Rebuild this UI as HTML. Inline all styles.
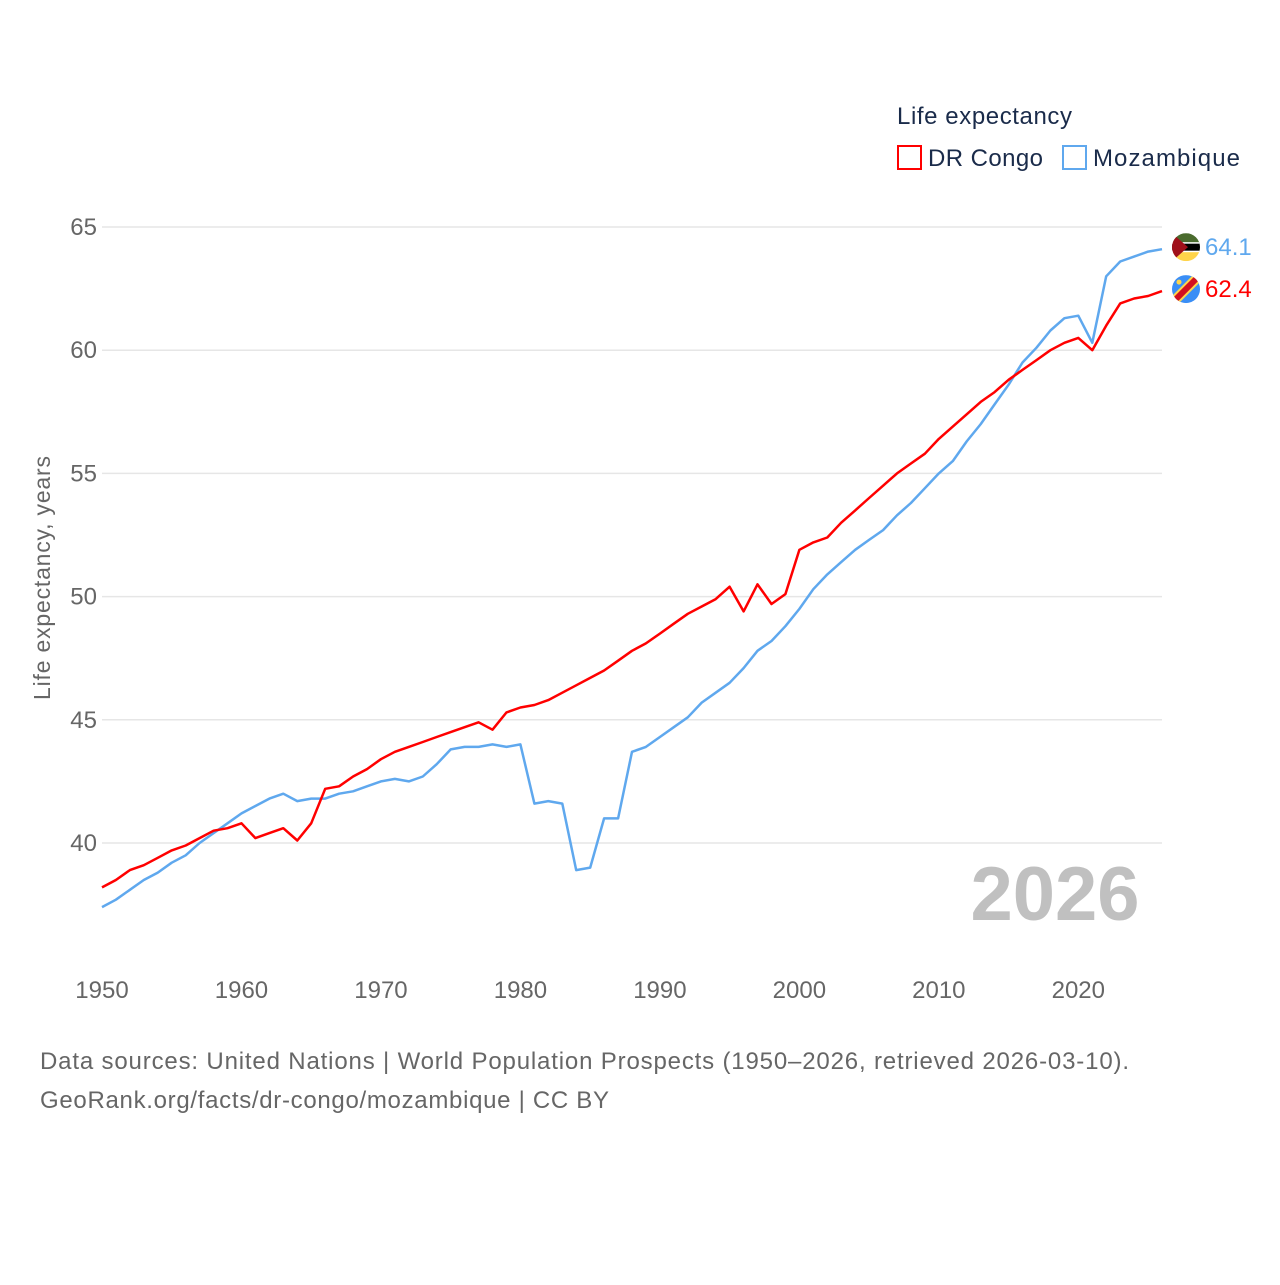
<!DOCTYPE html>
<html><head><meta charset="utf-8"><style>
body{margin:0;background:#fff;}
svg text{font-family:"Liberation Sans",sans-serif;}
</style></head><body>
<svg id="chart" width="1280" height="1280" viewBox="0 0 1280 1280">
<g id="grid"></g>
<g id="yticks"></g>
<g id="xticks"></g>
<text x="1055" y="920" font-size="76" font-weight="bold" fill="#c0c0c0" text-anchor="middle">2026</text>
<text transform="translate(50,578) rotate(-90)" font-size="23" fill="#666" text-anchor="middle" textLength="244">Life expectancy, years</text>
<g id="lines"></g>
<g>
<text x="897" y="124" font-size="24" fill="#1a2b4a" textLength="175">Life expectancy</text>
<g><rect x="898" y="146" width="23" height="23" fill="none" stroke="#ff0000" stroke-width="2"/><text x="928" y="166" font-size="24" fill="#1a2b4a" textLength="115">DR Congo</text></g>
<g><rect x="1063" y="146" width="23" height="23" fill="none" stroke="#5fa8ee" stroke-width="2"/><text x="1093" y="166" font-size="24" fill="#1a2b4a" textLength="147">Mozambique</text></g>
</g>
<g id="ends"></g>
<text x="40" y="1069" font-size="24" fill="#666" textLength="1089">Data sources: United Nations | World Population Prospects (1950–2026, retrieved 2026-03-10).</text>
<text x="40" y="1108" font-size="24" fill="#666" textLength="569">GeoRank.org/facts/dr-congo/mozambique | CC BY</text>
</svg>
<script>
const startYear = 1950;
const congo = [38.2,38.5,38.9,39.1,39.4,39.7,39.9,40.2,40.5,40.6,40.8,40.2,40.4,40.6,40.1,40.8,42.2,42.3,42.7,43.0,43.4,43.7,43.9,44.1,44.3,44.5,44.7,44.9,44.6,45.3,45.5,45.6,45.8,46.1,46.4,46.7,47.0,47.4,47.8,48.1,48.5,48.9,49.3,49.6,49.9,50.4,49.4,50.5,49.7,50.1,51.9,52.2,52.4,53.0,53.5,54.0,54.5,55.0,55.4,55.8,56.4,56.9,57.4,57.9,58.3,58.8,59.2,59.6,60.0,60.3,60.5,60.0,61.0,61.9,62.1,62.2,62.4];
const mozambique = [37.4,37.7,38.1,38.5,38.8,39.2,39.5,40.0,40.4,40.8,41.2,41.5,41.8,42.0,41.7,41.8,41.8,42.0,42.1,42.3,42.5,42.6,42.5,42.7,43.2,43.8,43.9,43.9,44.0,43.9,44.0,41.6,41.7,41.6,38.9,39.0,41.0,41.0,43.7,43.9,44.3,44.7,45.1,45.7,46.1,46.5,47.1,47.8,48.2,48.8,49.5,50.3,50.9,51.4,51.9,52.3,52.7,53.3,53.8,54.4,55.0,55.5,56.3,57.0,57.8,58.6,59.5,60.1,60.8,61.3,61.4,60.3,63.0,63.6,63.8,64.0,64.1];
const yTicks = [40,45,50,55,60,65];
const xTicks = [1950,1960,1970,1980,1990,2000,2010,2020];
</script>
<script>
const NS='http://www.w3.org/2000/svg';
const x=yr=>102+(yr-1950)*(1060/76);
const y=v=>227+(65-v)*24.64;
function mk(tag,attrs,parent,txt){const e=document.createElementNS(NS,tag);for(const k in attrs)e.setAttribute(k,attrs[k]);if(txt!==undefined)e.textContent=txt;parent.appendChild(e);return e;}
const grid=document.getElementById('grid'),yt=document.getElementById('yticks'),xt=document.getElementById('xticks');
yTicks.forEach(v=>{
  const l=mk('line',{x1:102,x2:1162,y1:y(v),y2:y(v),stroke:'#e6e6e6','stroke-width':1.5},grid);
  
  
  const t=mk('text',{x:97,y:y(v)+8,'font-size':24,fill:'#666','text-anchor':'end'},yt,v);
  
  
});
xTicks.forEach(v=>{
  const t=mk('text',{x:x(v),y:998,'font-size':24,fill:'#666','text-anchor':'middle'},xt,v);
  
  
});
const lines=document.getElementById('lines');
function draw(arr,color,name){
  const d=arr.map((v,i)=>(i?'L':'M')+x(startYear+i).toFixed(1)+','+y(v).toFixed(1)).join('');
  const p=mk('path',{d:d,fill:'none',stroke:color,'stroke-width':2.5,'stroke-linejoin':'round'},lines);
  
  
}
draw(mozambique,'#5fa8ee','line-mozambique');
draw(congo,'#ff0000','line-dr-congo');
const ends=document.getElementById('ends');
function endLabel(arr,color,name,flag){
  const v=arr[arr.length-1],cy=y(v)-2,cx=1186;
  const g=mk('g',{},ends);
  
  
  const cid='clip-'+name;
  const cp=mk('clipPath',{id:cid},g);mk('circle',{cx:cx,cy:cy,r:14},cp);
  const fg=mk('g',{'clip-path':'url(#'+cid+')'},g);
  flag(fg,cx,cy);
  mk('text',{x:1205,y:cy+8,'font-size':24,fill:color},g,v.toFixed(1));
}
endLabel(mozambique,'#5fa8ee','end-label-mozambique',(g,cx,cy)=>{
  mk('rect',{x:cx-14,y:cy-14,width:28,height:10,fill:'#4a6b2e'},g);
  mk('rect',{x:cx-14,y:cy-4,width:28,height:8,fill:'#000'},g);
  mk('rect',{x:cx-14,y:cy-5,width:28,height:1.5,fill:'#fff'},g);
  mk('rect',{x:cx-14,y:cy+3.5,width:28,height:1.5,fill:'#fff'},g);
  mk('rect',{x:cx-14,y:cy+5,width:28,height:9,fill:'#ffd44a'},g);
  mk('polygon',{points:(cx-14)+','+(cy-14)+' '+(cx+2)+','+cy+' '+(cx-14)+','+(cy+14),fill:'#a0101a'},g);
});
endLabel(congo,'#ff0000','end-label-dr-congo',(g,cx,cy)=>{
  mk('rect',{x:cx-14,y:cy-14,width:28,height:28,fill:'#3a8ef6'},g);
  mk('line',{x1:cx-16,y1:cy+16,x2:cx+16,y2:cy-16,stroke:'#ffd44a','stroke-width':10},g);
  mk('line',{x1:cx-16,y1:cy+16,x2:cx+16,y2:cy-16,stroke:'#d21020','stroke-width':6},g);
  mk('circle',{cx:cx-7,cy:cy-7,r:2.5,fill:'#ffd44a'},g);
});
</script>
</body></html>
